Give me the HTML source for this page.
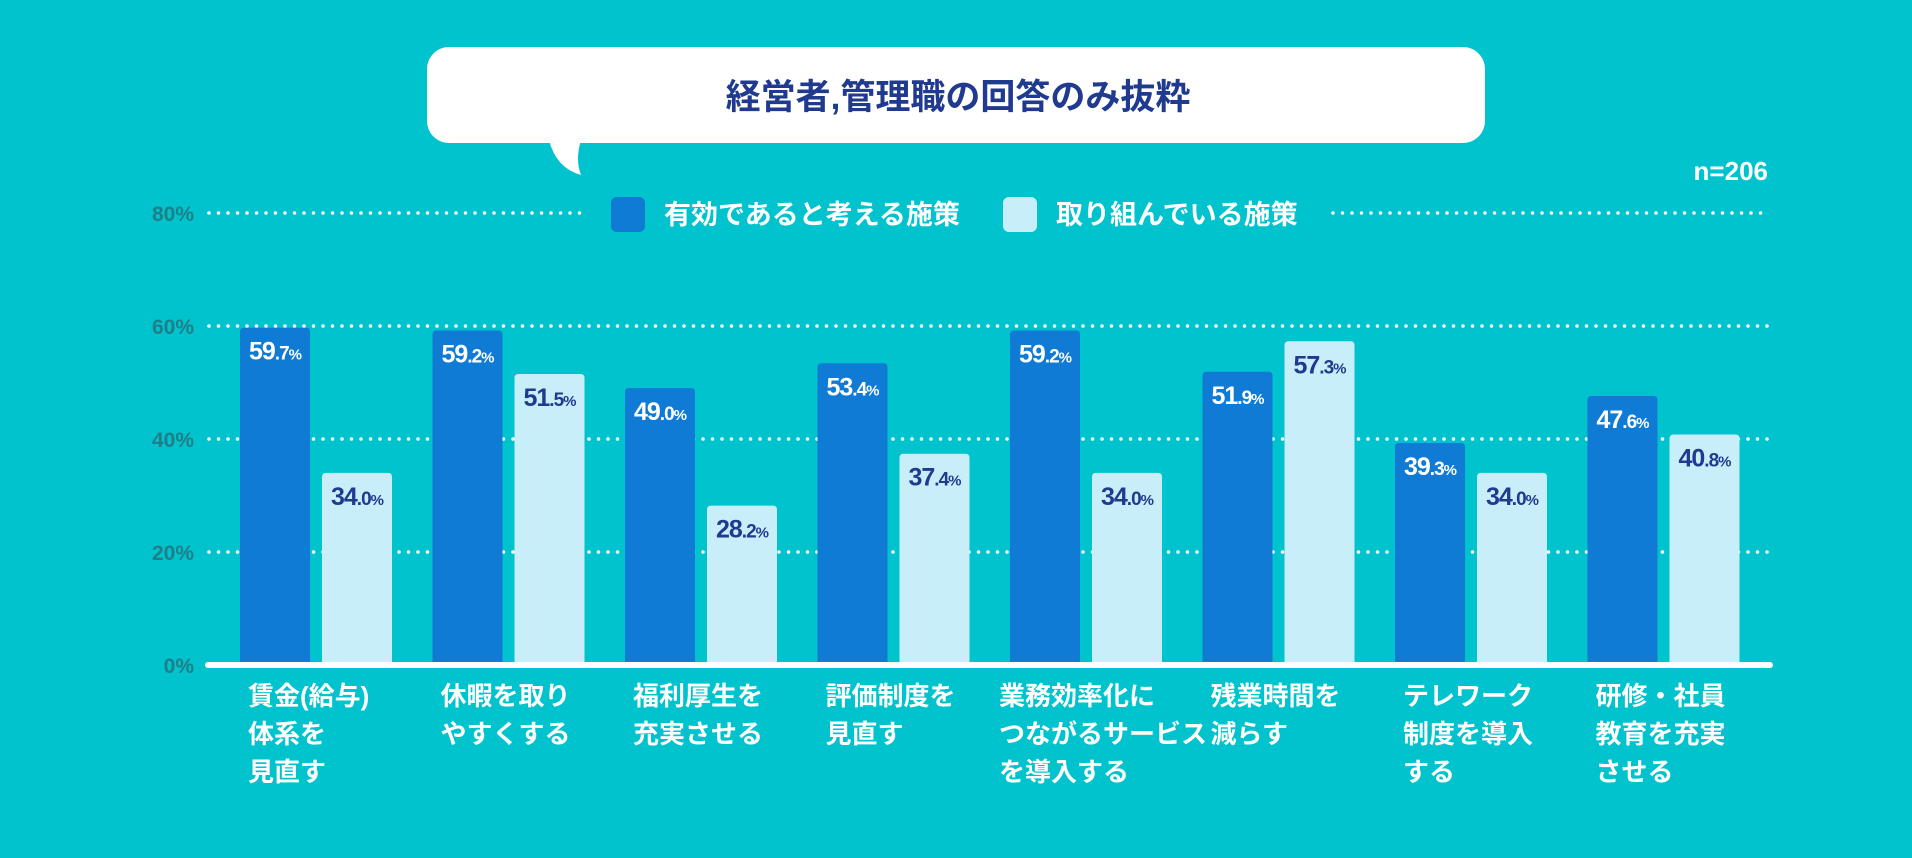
<!DOCTYPE html>
<html><head><meta charset="utf-8">
<style>
html,body{margin:0;padding:0;background:#00c3cd;}
svg{display:block;}
text{font-family:"Liberation Sans","Noto Sans CJK JP",sans-serif;font-weight:bold;}
</style></head>
<body>
<svg id="chart" width="1912" height="858" viewBox="0 0 1912 858" xmlns="http://www.w3.org/2000/svg">
<rect x="0" y="0" width="1912" height="858" fill="#00c3cd"/>
<g>
<rect x="427" y="47" width="1058" height="96" rx="22" fill="#ffffff"/>
<path d="M549 140 Q556 168 581 175 Q575 160 581 140 Z" fill="#ffffff"/>
<text x="958" y="109" text-anchor="middle" font-size="35" fill="#1f3a8f">経営者,管理職の回答のみ抜粋</text>
</g>
<text x="1768" y="180" text-anchor="end" font-size="26" fill="#ffffff">n=206</text>
<g id="grid"></g>
<g id="yticks"></g>
<g>
<rect x="611" y="197" width="34" height="35" rx="6" fill="#0f7bd4"/>
<text x="664" y="224" font-size="27" fill="#ffffff">有効であると考える施策</text>
<rect x="1003" y="197" width="34" height="35" rx="6" fill="#c8eff9"/>
<text x="1056" y="224" font-size="27" fill="#ffffff">取り組んでいる施策</text>
</g>
<g id="bars"></g>
<rect x="205" y="662" width="1568" height="6" rx="3" fill="#ffffff"/>
<g id="xlabels"></g>
</svg>
<script>
const categories = [
 ["賃金(給与)","体系を","見直す"],
 ["休暇を取り","やすくする"],
 ["福利厚生を","充実させる"],
 ["評価制度を","見直す"],
 ["業務効率化に","つながるサービス","を導入する"],
 ["残業時間を","減らす"],
 ["テレワーク","制度を導入","する"],
 ["研修・社員","教育を充実","させる"]
];
const effective = [59.7,59.2,49.0,53.4,59.2,51.9,39.3,47.6];
const implemented = [34.0,51.5,28.2,37.4,34.0,57.3,34.0,40.8];
const yTicks = [0,20,40,60,80];

const NS="http://www.w3.org/2000/svg";
const y0=665, pxPer=113/20;
function yScale(v){return y0 - v*pxPer;}
function groupX(i){return 240 + i*192.5;}
function mk(tag,attrs,parent){const e=document.createElementNS(NS,tag);for(const k in attrs)e.setAttribute(k,attrs[k]);parent.appendChild(e);return e;}

const grid=document.getElementById('grid');
const yt=document.getElementById('yticks');
yTicks.forEach(t=>{
  const y=yScale(t);
  if(t>0){
    if(t===80){
      const l1=mk('line',{x1:209,x2:580,y1:y,y2:y,stroke:'#ffffff','stroke-width':3.5,'stroke-linecap':'round','stroke-dasharray':'0 9.5'},grid);
      
      
      const l2=mk('line',{x1:1333,x2:1770,y1:y,y2:y,stroke:'#ffffff','stroke-width':3.5,'stroke-linecap':'round','stroke-dasharray':'0 9.5'},grid);
      
      
    } else {
      const l=mk('line',{x1:209,x2:1770,y1:y,y2:y,stroke:'#ffffff','stroke-width':3.5,'stroke-linecap':'round','stroke-dasharray':'0 9.5'},grid);
      
      
    }
  }
  const tx=mk('text',{x:194,y:y+8,'text-anchor':'end','font-size':21,fill:'#1f7f88','font-weight':'normal'},yt);
  tx.textContent=t+'%';
  
  
});

const bars=document.getElementById('bars');
function bar(x,v,fill,labelFill,name){
  const top=yScale(v), w=70, r=4;
  const p=mk('path',{d:`M${x} ${y0} L${x} ${top+r} Q${x} ${top} ${x+r} ${top} L${x+w-r} ${top} Q${x+w} ${top} ${x+w} ${top+r} L${x+w} ${y0} Z`,fill:fill},bars);
  
  
  const s=v.toFixed(1).split('.');
  const t=mk('text',{x:x+w/2,y:top+32,'text-anchor':'middle',fill:labelFill,'letter-spacing':'-1'},bars);
  
  
  const a=mk('tspan',{'font-size':25},t);a.textContent=s[0];
  const b=mk('tspan',{'font-size':19},t);b.textContent='.'+s[1];
  const c=mk('tspan',{'font-size':15},t);c.textContent='%';
}
effective.forEach((v,i)=>bar(groupX(i),v,'#0f7bd4','#ffffff','bar-effective-'+(i+1)));
implemented.forEach((v,i)=>bar(groupX(i)+82,v,'#c8eff9','#1f3a8f','bar-implemented-'+(i+1)));

const xl=document.getElementById('xlabels');
categories.forEach((lines,i)=>{
  const x = (lines.some(l=>l.length>6)) ? groupX(i)-11 : groupX(i)+8;
  const t=mk('text',{x:x,y:705,'font-size':26,fill:'#ffffff'},xl);
  
  
  lines.forEach((ln,j)=>{
    const s=mk('tspan',{x:x,y:705+j*38},t);
    s.textContent=ln;
  });
});
</script>
</body></html>
